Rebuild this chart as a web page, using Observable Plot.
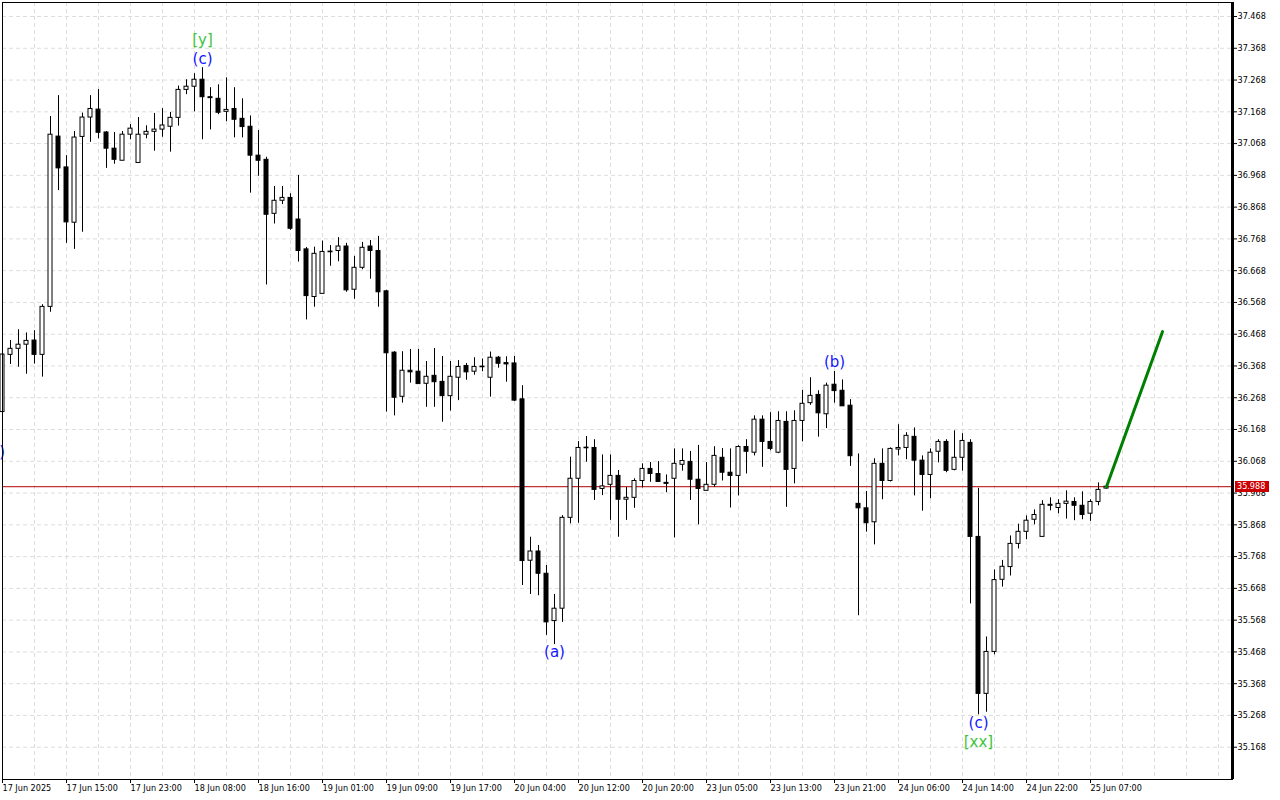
<!DOCTYPE html>
<html><head><meta charset="utf-8">
<script src="https://cdn.jsdelivr.net/npm/d3@7"></script>
<script src="https://cdn.jsdelivr.net/npm/@observablehq/plot@0.6"></script>
<style>html,body{margin:0;padding:0;background:#fff;overflow:hidden}</style>
</head><body><div id="chart"></div>
<script>
// H1 bars, index 0 = first visible bar (17 Jun 2025)
const open = [36.223,36.403,36.422,36.435,36.448,36.403,36.554,37.090,36.993,36.819,
37.089,37.150,37.175,37.103,37.052,37.014,37.096,37.007,37.096,37.105,
37.112,37.121,37.149,37.237,37.247,37.269,37.214,37.209,37.168,37.177,
37.146,37.121,37.030,37.017,36.847,36.888,36.897,36.829,36.735,36.585,
36.595,36.726,36.730,36.744,36.608,36.677,36.744,36.730,36.603,36.410,
36.271,36.353,36.350,36.312,36.337,36.318,36.273,36.331,36.368,36.350,
36.364,36.331,36.394,36.377,36.376,36.263,35.755,35.784,35.714,35.565,
35.604,35.890,36.013,36.109,36.110,35.981,35.994,36.022,35.947,35.953,
36.006,36.044,36.028,36.000,36.013,36.057,36.066,36.010,35.975,35.994,
36.079,36.032,36.022,36.113,36.095,36.199,36.129,36.095,36.192,36.044,
36.195,36.251,36.277,36.216,36.309,36.290,36.243,35.934,35.920,35.876,
36.060,36.006,36.105,36.110,36.145,36.070,36.025,36.098,36.129,36.041,
36.079,36.126,35.830,35.336,35.468,35.695,35.735,35.808,35.846,35.884,
35.830,35.931,35.921,35.934,35.940,35.928,35.903,35.940,35.982];
const high = [36.415,36.448,36.482,36.472,36.479,36.561,37.153,37.219,37.030,37.106,
37.164,37.219,37.238,37.106,37.103,37.106,37.128,37.150,37.124,37.163,
37.178,37.166,37.249,37.269,37.288,37.307,37.244,37.253,37.275,37.244,
37.209,37.155,37.109,37.025,36.933,36.933,36.910,36.968,36.741,36.742,
36.761,36.747,36.772,36.754,36.713,36.757,36.763,36.776,36.606,36.413,
36.413,36.420,36.420,36.382,36.423,36.398,36.382,36.385,36.376,36.394,
36.390,36.412,36.398,36.397,36.398,36.306,35.829,35.803,35.740,35.649,
35.897,36.081,36.130,36.146,36.136,36.088,36.088,36.039,35.986,36.013,
36.060,36.064,36.067,36.025,36.107,36.107,36.099,36.118,36.064,36.114,
36.108,36.107,36.117,36.136,36.211,36.211,36.221,36.224,36.224,36.227,
36.291,36.331,36.290,36.314,36.351,36.324,36.262,36.091,35.973,36.076,
36.107,36.110,36.183,36.158,36.173,36.085,36.107,36.136,36.136,36.164,
36.155,36.136,35.983,35.515,35.726,35.756,35.833,35.870,35.896,35.915,
35.944,35.953,35.947,35.975,35.953,35.972,35.947,36.000,35.988];
const low = [36.223,36.373,36.364,36.342,36.374,36.333,36.537,36.920,36.754,36.735,
36.789,37.072,37.083,36.990,37.003,37.014,37.080,37.007,37.083,37.044,
37.088,37.041,37.123,37.222,37.168,37.080,37.111,37.159,37.137,37.086,
37.086,36.912,36.965,36.623,36.815,36.876,36.795,36.695,36.513,36.553,
36.595,36.682,36.696,36.600,36.578,36.671,36.641,36.553,36.223,36.211,
36.251,36.314,36.311,36.238,36.238,36.191,36.226,36.259,36.323,36.339,
36.350,36.270,36.361,36.317,36.256,35.677,35.649,35.645,35.520,35.491,
35.561,35.871,35.873,36.065,35.945,35.960,35.882,35.829,35.882,35.920,
35.984,36.002,36.003,35.969,35.827,36.037,35.945,35.868,35.975,35.986,
36.006,35.921,35.959,36.028,36.085,36.049,36.101,36.092,35.923,35.997,
36.129,36.244,36.144,36.171,36.251,36.241,36.052,35.582,35.845,35.805,
35.947,36.003,36.085,36.073,35.959,35.911,35.950,36.063,36.032,36.038,
36.037,35.619,35.270,35.278,35.459,35.672,35.707,35.792,35.821,35.868,
35.830,35.912,35.903,35.886,35.881,35.884,35.879,35.928,35.980];
const close = [36.404,36.422,36.435,36.447,36.403,36.554,37.096,36.990,36.820,37.087,
37.150,37.177,37.102,37.052,37.017,37.096,37.115,37.096,37.105,37.112,
37.125,37.149,37.237,37.247,37.269,37.214,37.211,37.165,37.174,37.143,
37.120,37.030,37.014,36.844,36.888,36.897,36.800,36.730,36.588,36.721,
36.727,36.728,36.744,36.606,36.677,36.740,36.730,36.600,36.408,36.268,
36.353,36.348,36.311,36.334,36.317,36.273,36.334,36.365,36.348,36.365,
36.366,36.394,36.375,36.373,36.259,35.754,35.784,35.714,35.561,35.604,
35.890,36.013,36.110,36.111,35.978,35.989,36.022,35.947,35.953,36.006,
36.044,36.028,36.003,35.997,36.060,36.069,36.010,35.981,35.994,36.085,
36.032,36.022,36.113,36.098,36.199,36.129,36.107,36.195,36.041,36.195,
36.249,36.274,36.219,36.306,36.289,36.241,36.084,35.920,35.873,36.060,
36.006,36.107,36.110,36.148,36.070,36.025,36.095,36.129,36.038,36.079,
36.132,35.830,35.336,35.468,35.694,35.736,35.808,35.846,35.881,35.899,
35.931,35.928,35.934,35.941,35.928,35.899,35.940,35.978,35.988];

const yTicks = [35.168,35.268,35.368,35.468,35.568,35.668,35.768,35.868,35.968,36.068,
36.168,36.268,36.368,36.468,36.568,36.668,36.768,36.868,36.968,37.068,37.168,37.268,37.368,37.468];
const xTickIdx = [0,8,16,24,32,40,48,56,64,72,80,88,96,104,112,120,128,136];
const xTickLabels = ["17 Jun 2025","17 Jun 15:00","17 Jun 23:00","18 Jun 08:00","18 Jun 16:00",
"19 Jun 01:00","19 Jun 09:00","19 Jun 17:00","20 Jun 04:00","20 Jun 12:00","20 Jun 20:00",
"23 Jun 05:00","23 Jun 13:00","23 Jun 21:00","24 Jun 06:00","24 Jun 14:00","24 Jun 22:00","25 Jun 07:00"];

const waveText  = ["[y]","(c)","(a)","(b)","(c)","[xx]","(b)"];
const waveBar   = [25, 25, 69, 104, 122, 122, -1];
const wavePrice = [37.392, 37.334, 35.466, 36.379, 35.243, 35.183, 36.096];
const waveColor = ["#3ec43e","#1515ff","#1515ff","#1515ff","#1515ff","#3ec43e","#1515ff"];

const lastPrice = 35.988;
const projBar = [138, 145];
const projPrice = [35.988, 36.476];

const candles = open.map((o, i) => ({i, o, h: high[i], l: low[i], c: close[i]}));
const waves = waveText.map((t, k) => ({t, bar: waveBar[k], p: wavePrice[k], col: waveColor[k]}));
const proj = projBar.map((b, k) => ({b, p: projPrice[k]}));
const xMax = 153.75;
const gridColor = "#dddddd";

const plot = Plot.plot({
  width: 1280, height: 800,
  marginLeft: 2, marginRight: 48, marginTop: 2, marginBottom: 21,
  x: {type: "linear", domain: [0, xMax], label: null},
  y: {domain: [35.0664, 37.5121], label: null},
  style: {fontFamily: "'DejaVu Sans Condensed', 'DejaVu Sans', sans-serif", fontSize: "9px", color: "black", background: "white"},
  marks: [
    Plot.ruleY(yTicks, {stroke: gridColor, strokeDasharray: "4,3"}),
    Plot.ruleX(d3.range(0, 154, 4), {stroke: gridColor, strokeDasharray: "4,3"}),
    Plot.ruleY([lastPrice], {stroke: "#b00000"}),
    Plot.ruleX(candles, {x: "i", y1: "l", y2: "h", stroke: "black"}),
    Plot.rect(candles, {x1: d => d.i - 0.25, x2: d => d.i + 0.25, y1: "o", y2: "c",
      fill: d => d.c >= d.o ? "white" : "black", stroke: "black", inset: 0}),
    Plot.line(proj, {x: "b", y: "p", stroke: "#008000", strokeWidth: 3}),
    Plot.text(waves, {x: "bar", y: "p", text: "t", fill: "col", fontSize: 15, fontFamily: "'DejaVu Sans', sans-serif"}),
    Plot.frame({stroke: "black"}),
    Plot.ruleX([xMax], {stroke: "black", strokeWidth: 3}),
    Plot.axisY(yTicks, {anchor: "right", tickSize: 4, tickPadding: 1, tickFormat: d => d.toFixed(3), label: null}),
    Plot.axisX(xTickIdx, {anchor: "bottom", tickSize: 4, tickPadding: 1, textAnchor: "start",
      tickFormat: d => xTickLabels[xTickIdx.indexOf(d)], label: null})
  ]
});

const svg = d3.select(plot);
const ys = plot.scale("y"), xs = plot.scale("x");
const py = ys.apply(lastPrice);
const xr = xs.range[1];
const tag = svg.append("g").attr("text-anchor", "start");
tag.append("rect").attr("x", xr + 3).attr("y", Math.round(py) - 5).attr("width", 34).attr("height", 11).attr("fill", "#cc0000");
tag.append("text").attr("x", xr + 5).attr("y", py).attr("dy", "0.35em").attr("text-anchor", "start")
  .attr("fill", "white").text(lastPrice.toFixed(3));

document.getElementById("chart").appendChild(plot);
</script>
</body></html>
